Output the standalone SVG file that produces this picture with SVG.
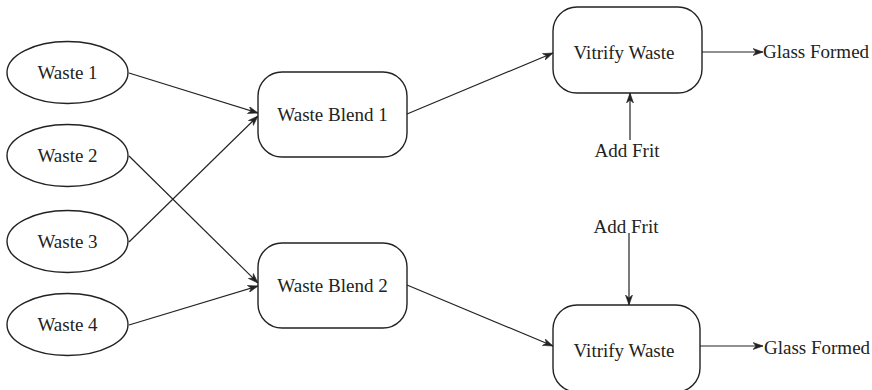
<svg xmlns="http://www.w3.org/2000/svg" width="872" height="390" viewBox="0 0 872 390">
<style>
.n{fill:#fff;stroke:#222;stroke-width:1.4}
.t{font-family:"Liberation Serif",serif;font-size:19px;fill:#222;text-anchor:middle}
.l{font-family:"Liberation Serif",serif;font-size:19px;fill:#222}
.c{fill:none;stroke:#222;stroke-width:1.2;marker-end:url(#a)}
</style>
<defs>
<marker id="a" viewBox="0 0 10 8" refX="10" refY="4" markerWidth="10" markerHeight="8" markerUnits="userSpaceOnUse" orient="auto">
<path d="M0,0.5 L10,4 L0,7.5 L3,4 Z" fill="#222" stroke="#222" stroke-width="0.6" stroke-linejoin="miter"/>
</marker>
</defs>
<rect width="872" height="390" fill="#fff"/>
<g id="connectors">
<line class="c" x1="129" y1="73" x2="258" y2="113"/>
<line class="c" x1="129" y1="242" x2="258" y2="116"/>
<line class="c" x1="129" y1="156" x2="258" y2="283"/>
<line class="c" x1="129" y1="325" x2="258" y2="286"/>
<line class="c" x1="407" y1="114" x2="553" y2="53"/>
<line class="c" x1="407" y1="285" x2="553" y2="346"/>
<line class="c" x1="702" y1="52" x2="763" y2="52"/>
<line class="c" x1="700" y1="346" x2="763" y2="346"/>
<line class="c" x1="630" y1="140" x2="630" y2="93"/>
<line class="c" x1="629" y1="233" x2="629" y2="305"/>
</g>
<g id="waste1"><ellipse class="n" cx="67.5" cy="72.5" rx="60.5" ry="31"/><text class="t" x="67.5" y="78.5">Waste 1</text></g>
<g id="waste2"><ellipse class="n" cx="67.5" cy="155.5" rx="60.5" ry="31"/><text class="t" x="67.5" y="161.5">Waste 2</text></g>
<g id="waste3"><ellipse class="n" cx="67.5" cy="241.5" rx="60.5" ry="31"/><text class="t" x="67.5" y="247.5">Waste 3</text></g>
<g id="waste4"><ellipse class="n" cx="67.5" cy="324.5" rx="60.5" ry="31"/><text class="t" x="67.5" y="330.5">Waste 4</text></g>
<g id="blend1"><rect class="n" x="258" y="72" width="149" height="85" rx="24"/><text class="t" x="332.5" y="121">Waste Blend 1</text></g>
<g id="blend2"><rect class="n" x="258" y="243" width="149" height="85" rx="24"/><text class="t" x="332.5" y="292">Waste Blend 2</text></g>
<g id="vitrify1"><rect class="n" x="553" y="7" width="149" height="86" rx="24"/><text class="t" x="624" y="59">Vitrify Waste</text></g>
<g id="vitrify2"><rect class="n" x="553" y="305" width="147" height="87" rx="24"/><text class="t" x="624" y="357">Vitrify Waste</text></g>
<g id="glass1"><text class="l" x="763" y="58">Glass Formed</text></g>
<g id="glass2"><text class="l" x="764" y="354">Glass Formed</text></g>
<g id="frit1"><text class="t" x="627" y="157">Add Frit</text></g>
<g id="frit2"><text class="t" x="626" y="233">Add Frit</text></g>
</svg>
